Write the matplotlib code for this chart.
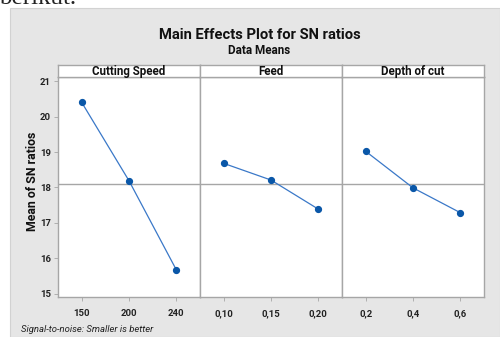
import matplotlib
matplotlib.use("Agg")
import matplotlib.pyplot as plt
from matplotlib.patches import Rectangle

# Data
factors = ["Cutting Speed", "Feed", "Depth of cut"]
speed_levels = ["150", "200", "240"]
speed_means = [20.40, 18.19, 15.68]
feed_levels = ["0,10", "0,15", "0,20"]
feed_means = [18.68, 18.21, 17.39]
depth_levels = ["0,2", "0,4", "0,6"]
depth_means = [19.02, 17.99, 17.29]
grand_mean = 18.09
y_ticks = [15, 16, 17, 18, 19, 20, 21]

levels = [speed_levels, feed_levels, depth_levels]
means = [speed_means, feed_means, depth_means]

W, H = 500, 337
fig = plt.figure(figsize=(W / 100, H / 100), dpi=100)
fig.patch.set_facecolor("white")

def fx(px):
    return px / W

def fy(py):
    return 1 - py / H

# gray background panel
bg = Rectangle((fx(10), fy(337)), fx(490), 329 / H, transform=fig.transFigure,
               facecolor="#e6e6e6", edgecolor="#d2d2d2", lw=0.8, zorder=-10)
fig.patches.append(bg)

# cropped text from surrounding document
fig.text(fx(-1), fy(4.5), "berikut.", family="Liberation Serif", fontsize=18,
         va="baseline", ha="left", color="#222222")

fig.text(fx(260), fy(35), "Main Effects Plot for SN ratios", family="Roboto",
         fontweight="bold", fontsize=10.6, ha="center", va="center", color="#111111")
fig.text(fx(259), fy(51), "Data Means", family="Roboto", fontweight="bold",
         fontsize=8.4, ha="center", va="center", color="#111111")

fig.text(fx(33), fy(181), "Mean of SN ratios", family="Roboto", fontweight="bold",
         fontsize=8.9, rotation=90, ha="center", va="center", color="#111111")
fig.text(fx(21), fy(329), "Signal-to-noise: Smaller is better", family="Roboto",
         style="italic", fontsize=6.8, ha="left", va="center", color="#222222")

edges = [58, 200, 342, 484]
y_bot, y_top, s_top = 297, 77, 65
spine_c = "#a6a6a6"
line_c = "#3a78c8"
mark_c = "#0a57a8"
ylo, yhi = 14.915, 21.113

for i in range(3):
    x0, x1 = edges[i], edges[i + 1]
    ax = fig.add_axes([fx(x0), fy(y_bot), fx(x1 - x0), (y_bot - y_top) / H], zorder=1)
    ax.set_facecolor("white")
    xs = list(range(len(levels[i])))
    ax.axhline(grand_mean, color=spine_c, lw=1.0, zorder=1)
    ax.plot(xs, means[i], color=line_c, lw=0.9, zorder=2)
    ax.plot(xs, means[i], "o", color=mark_c, ms=4.2, zorder=3)
    ax.set_xlim(-0.5, 2.5)
    ax.set_ylim(ylo, yhi)
    ax.set_xticks(xs)
    ax.set_xticklabels(levels[i], family="Roboto", fontweight="bold", fontsize=6.8, color="#222222")
    ax.tick_params(axis="x", length=3, width=0.6, color=spine_c, pad=6)
    if i == 0:
        ax.set_yticks(y_ticks)
        ax.set_yticklabels([str(t) for t in y_ticks], family="Roboto", fontweight="bold",
                           fontsize=6.8, color="#222222")
        ax.tick_params(axis="y", length=3, width=0.6, color=spine_c, pad=2)
    else:
        ax.set_yticks([])
    for sp in ax.spines.values():
        sp.set_color(spine_c)
        sp.set_linewidth(1.0)

    sax = fig.add_axes([fx(x0), fy(y_top), fx(x1 - x0), (y_top - s_top) / H], zorder=1)
    sax.set_facecolor("white")
    sax.set_xticks([])
    sax.set_yticks([])
    for sp in sax.spines.values():
        sp.set_color(spine_c)
        sp.set_linewidth(1.0)
    sax.text(0.5, 0.42, factors[i], transform=sax.transAxes, ha="center", va="center",
             family="Roboto", fontweight="bold", fontsize=8.3, color="#111111")

fig.savefig("out.png", dpi=100)
